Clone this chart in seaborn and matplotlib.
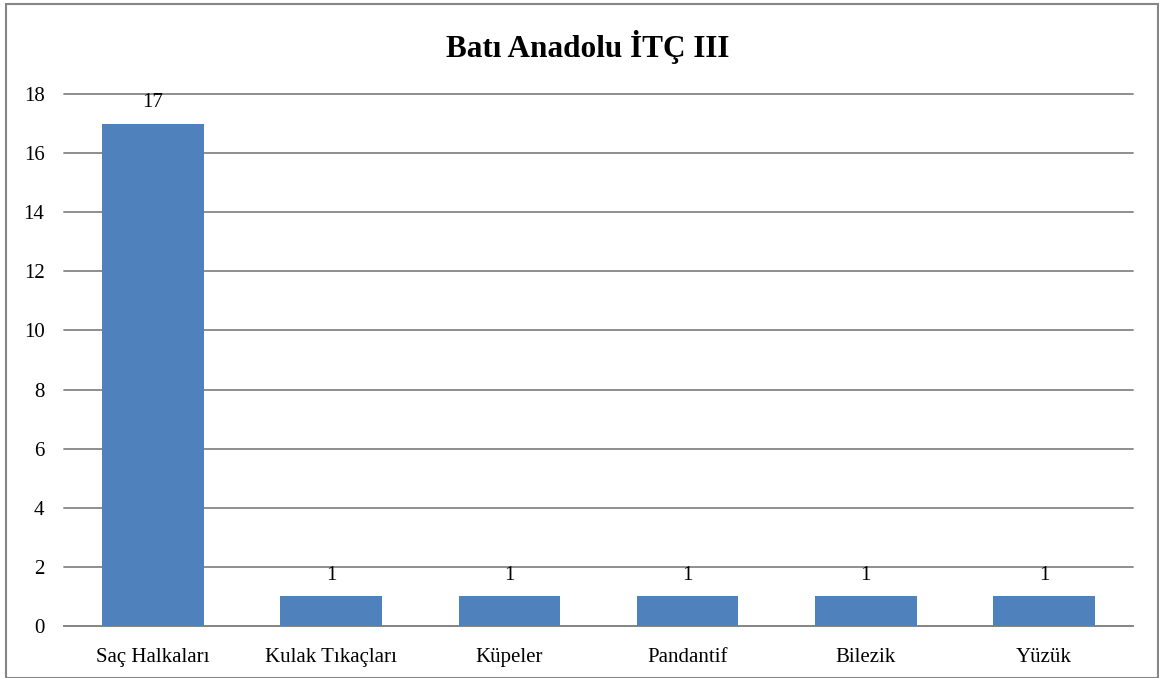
"""
plot.py
Bar chart of ornament counts - Batı Anadolu İTÇ III
"""

import pandas as pd
import matplotlib.pyplot as plt
import seaborn as sns
from matplotlib.patches import Rectangle

sns.set_style('white')
plt.rcParams['font.family'] = ['Liberation Serif', 'DejaVu Serif']

# Data
categories = ['Saç Halkaları', 'Kulak Tıkaçları', 'Küpeler', 'Pandantif', 'Bilezik', 'Yüzük']
counts = [17, 1, 1, 1, 1, 1]
y_ticks = [0, 2, 4, 6, 8, 10, 12, 14, 16, 18]

df = pd.DataFrame({'category': categories, 'count': counts})

fig = plt.figure(figsize=(11.59, 6.78), dpi=100)
ax = fig.add_axes([0.0552, 0.0767, 0.9224, 0.7847])

sns.barplot(data=df, x='category', y='count', color='#4F81BD', saturation=1,
            width=0.57, edgecolor='none', ax=ax, zorder=3)

ax.set_ylim(0, 18)
ax.set_yticks(y_ticks)
ax.set_xlim(-0.5, len(categories) - 0.5)
ax.yaxis.grid(True, color='#868686', linewidth=1.3, zorder=0)
for gl in ax.get_ygridlines():
    gl.set_clip_on(False)
ax.set_axisbelow(True)
for side in ['left', 'right', 'top']:
    ax.spines[side].set_visible(False)
ax.spines['bottom'].set_color('#868686')
ax.spines['bottom'].set_linewidth(1.3)
ax.tick_params(axis='both', length=0, labelsize=15, colors='black')
ax.tick_params(axis='y', pad=14)
ax.tick_params(axis='x', pad=16)
ax.set_xlabel('')
ax.set_ylabel('')

# Value labels
for i, v in enumerate(counts):
    ax.annotate(str(v), (i, v), xytext=(0, 8), textcoords='offset points',
                ha='center', va='bottom', fontsize=15, color='black')

fig.text(0.507, 0.93, 'Batı Anadolu İTÇ III', ha='center', va='center',
         fontsize=22.5, fontweight='bold', color='black')

# Chart border
fig.patches.append(Rectangle((0.005, 0.0), 0.994, 0.994, transform=fig.transFigure,
                             fill=False, edgecolor='#868686', linewidth=1.5))

fig.savefig('out.png', dpi=100)
plt.close()
